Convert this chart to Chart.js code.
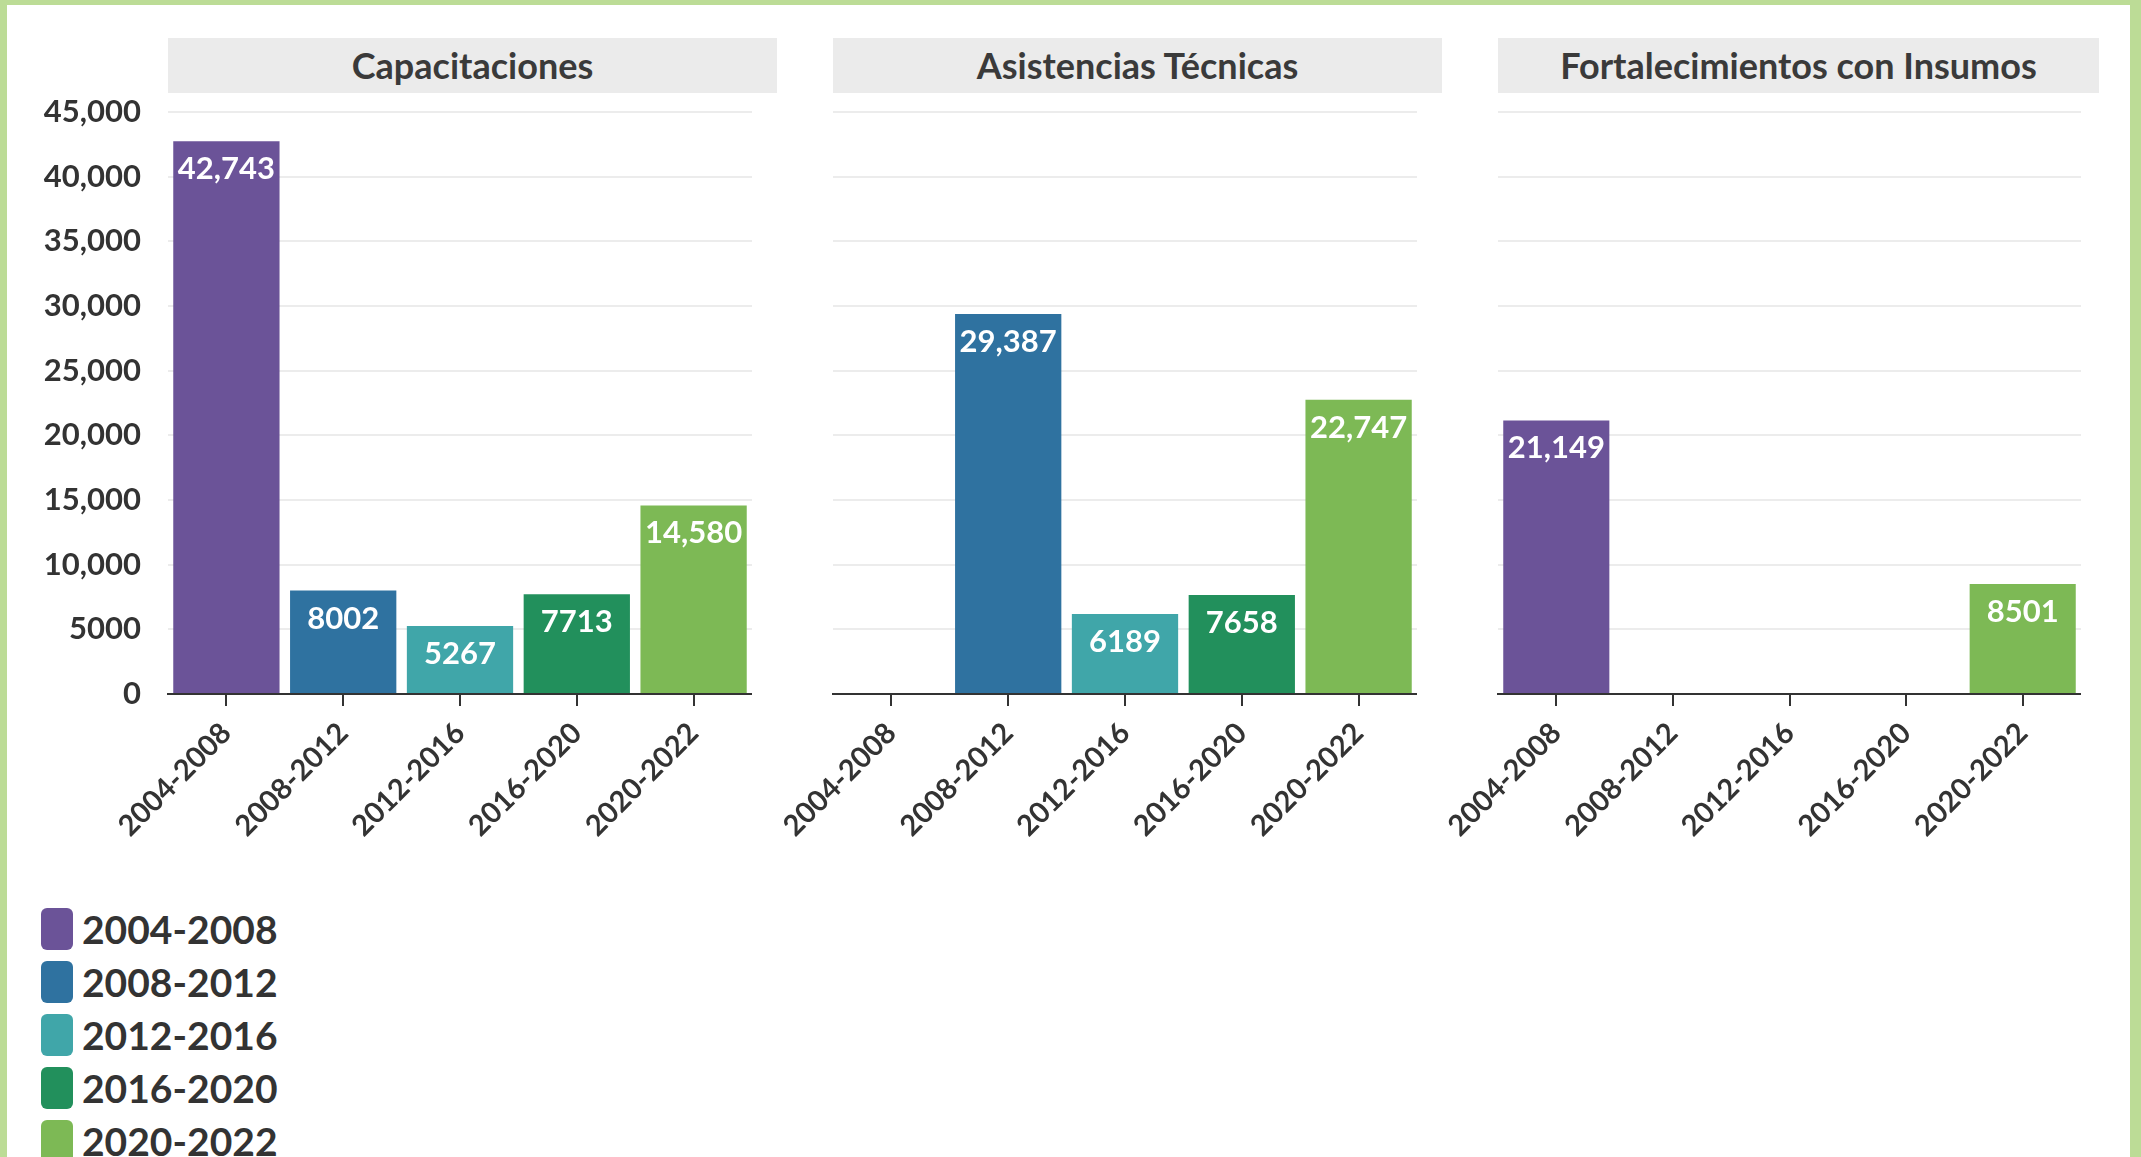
<!DOCTYPE html>
<html>
<head>
<meta charset="utf-8">
<script src="https://cdn.jsdelivr.net/npm/chart.js@4/dist/chart.umd.min.js"></script>
<style>
  html, body { margin: 0; padding: 0; }
  body { width: 2141px; height: 1157px; background: #bcdc96; position: relative; overflow: hidden; font-family: Lato, "Open Sans", sans-serif; }
  #page { position: absolute; left: 7px; top: 5px; width: 2123px; height: 1200px; background: #fff; }
  .panel { position: absolute; top: 100px; height: 794px; }
  .header { position: absolute; top: 38px; height: 55px; line-height: 55px; background: #ebebeb; color: #3a3a3a; font-weight: bold; font-size: 36px; text-align: center; }
  #legend { position: absolute; left: 41px; top: 902px; }
  .item { height: 53px; display: flex; align-items: center; color: #333; font-weight: bold; font-size: 39px; }
  .swatch { width: 32px; height: 42px; border-radius: 6px; margin-right: 9px; }
</style>
</head>
<body>
<div id="page"></div>
<div class="header" style="left:168px;width:609px">Capacitaciones</div>
<div class="header" style="left:833px;width:609px">Asistencias Técnicas</div>
<div class="header" style="left:1498px;width:601px">Fortalecimientos con Insumos</div>
<div class="panel" id="p1" style="left:0px;width:752px"><canvas id="c1"></canvas></div>
<div class="panel" id="p2" style="left:713px;width:704px"><canvas id="c2"></canvas></div>
<div class="panel" id="p3" style="left:1378px;width:703px"><canvas id="c3"></canvas></div>
<div id="legend"></div>
<script>
// periodos (categorías del eje x)
const periodos = ['2004-2008', '2008-2012', '2012-2016', '2016-2020', '2020-2022'];
const colores = ['#6b5398', '#2f72a0', '#40a6a9', '#22905c', '#7db955'];

// valores por panel
const capacitaciones = [42743, 8002, 5267, 7713, 14580];
const asistencias = [null, 29387, 6189, 7658, 22747];
const fortalecimientos = [21149, null, null, null, 8501];

const yTicks = [0, 5000, 10000, 15000, 20000, 25000, 30000, 35000, 40000, 45000];

function formato(v) {
    if (v < 10000) return String(v);
    return String(v).replace(/\B(?=(\d{3})+(?!\d))/g, ',');
}

// etiquetas blancas dentro de cada barra
const etiquetas = {
    id: 'etiquetas',
    afterDatasetsDraw(chart) {
        const ctx = chart.ctx;
        const datos = chart.data.datasets[0].data;
        chart.getDatasetMeta(0).data.forEach(function (bar, i) {
            if (datos[i] == null) return;
            ctx.save();
            ctx.font = 'bold 31px Lato';
            ctx.fillStyle = '#ffffff';
            ctx.textAlign = 'center';
            ctx.textBaseline = 'middle';
            ctx.fillText(formato(datos[i]), bar.x, bar.y + 28);
            ctx.restore();
        });
    }
};

function crearPanel(id, datos, conEjeY, anchoEjeY) {
    new Chart(document.getElementById(id), {
        type: 'bar',
        data: {
            labels: periodos,
            datasets: [{
                data: datos,
                backgroundColor: colores,
                categoryPercentage: 1,
                barPercentage: 0.91
            }]
        },
        options: {
            responsive: true,
            maintainAspectRatio: false,
            animation: false,
            layout: { padding: { top: 12, right: 0, left: 0, bottom: 0 } },
            plugins: { legend: { display: false }, tooltip: { enabled: false } },
            scales: {
                x: {
                    grid: { display: true, drawOnChartArea: false, drawTicks: true, tickLength: 12, color: '#333', lineWidth: 2, offset: false },
                    border: { display: true, color: '#333', width: 2 },
                    ticks: {
                        color: '#333',
                        font: { family: 'Lato', size: 29, weight: 'bold' },
                        minRotation: 45, maxRotation: 45, autoSkip: false, padding: 10
                    },
                    afterFit: function (s) { s.height = 200; s.paddingLeft = 0; s.paddingRight = 0; }
                },
                y: {
                    min: 0, max: 45000,
                    afterBuildTicks: function (s) { s.ticks = yTicks.map(function (v) { return { value: v }; }); },
                    grid: { color: '#ececec', lineWidth: 2, drawTicks: false },
                    border: { display: false },
                    ticks: {
                        display: conEjeY,
                        color: '#333',
                        font: { family: 'Lato', size: 31, weight: 'bold' },
                        padding: 27,
                        callback: function (v) { return formato(v); }
                    },
                    afterFit: function (s) { s.width = anchoEjeY; s.paddingTop = 0; s.paddingBottom = 0; }
                }
            }
        },
        plugins: [etiquetas]
    });
}

crearPanel('c1', capacitaciones, true, 168);
crearPanel('c2', asistencias, false, 120);
crearPanel('c3', fortalecimientos, false, 120);

// leyenda
const leyenda = document.getElementById('legend');
periodos.forEach(function (p, i) {
    const fila = document.createElement('div');
    fila.className = 'item';
    fila.innerHTML = '<span class="swatch" style="background:' + colores[i] + '"></span>' + p;
    leyenda.appendChild(fila);
});
</script>
</body>
</html>
